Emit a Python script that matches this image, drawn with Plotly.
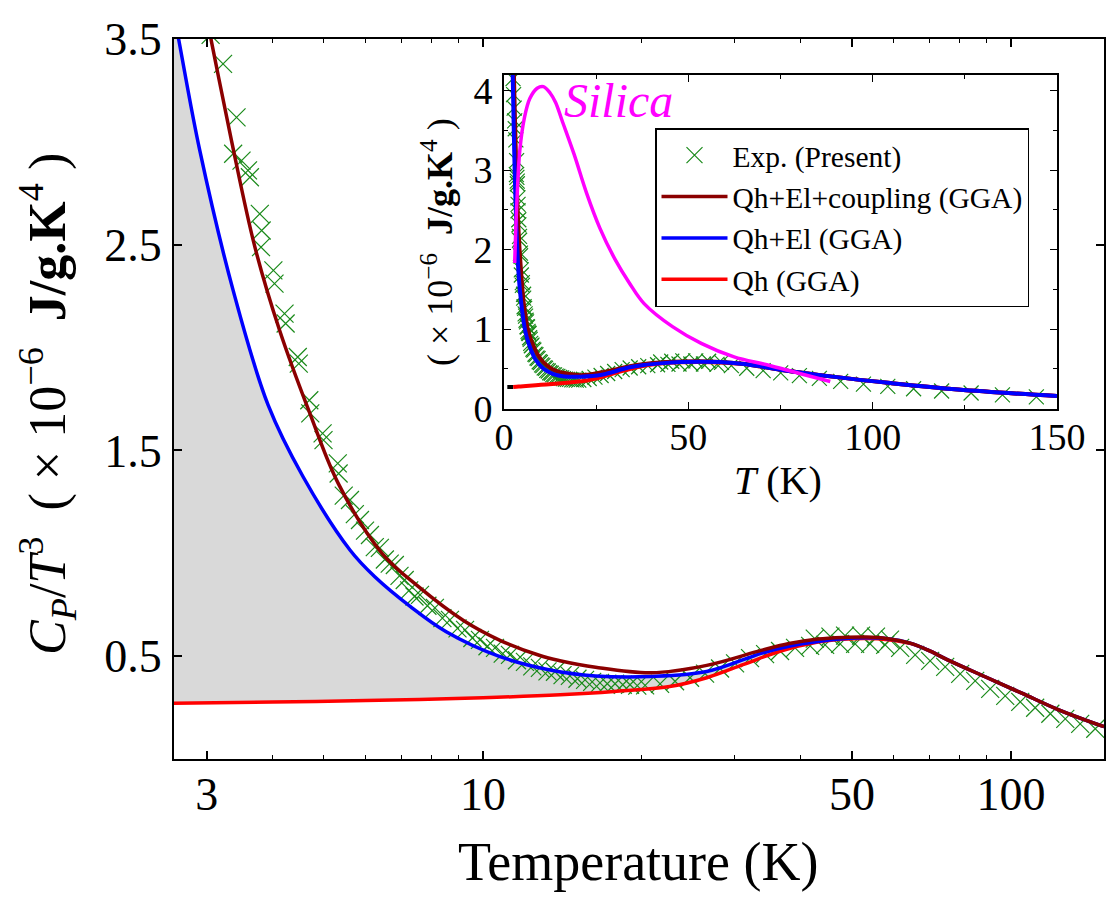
import plotly.graph_objects as go

# ---------------- data ----------------
# Experimental C_P/T^3 (x 1e-6 J/g.K^4)
exp_T = [2.45, 2.6, 2.75, 2.9, 3.05, 3.22, 3.365, 3.415, 3.49, 3.59, 3.62, 3.78, 3.80, 3.81,
         4.01, 4.03, 4.21, 4.23, 4.46, 4.48, 4.69, 4.71, 4.97, 4.99, 5.31, 5.33, 5.60, 5.85,
         6.11, 6.38, 6.81, 7.11, 7.60, 8.11, 8.66, 9.25, 9.87, 10.54, 11.25, 12.01, 12.82,
         13.69, 14.61, 15.61, 16.66, 17.79, 18.99, 20.28, 21.65, 23.11, 24.67, 26.34, 28.12,
         30.02, 32.05, 34.22, 36.53, 39.0, 41.65, 44.46, 47.47, 50.68, 54.1, 57.77, 61.67,
         65.84, 70.29, 75.05, 80.12, 85.54, 91.32, 97.5, 104.1, 111.1, 118.7, 126.7, 135.2,
         144.4, 42.5, 45.5, 48.5, 52.0, 55.5, 59.0,
         5.45, 5.72, 5.98, 6.24, 6.52, 6.66, 6.95, 7.25, 7.42, 7.85, 8.38, 8.95, 9.55, 10.2,
         10.9, 11.6, 12.4, 13.25, 14.15, 15.1, 16.1, 17.2, 18.4, 19.6]
exp_Cp = [4.15, 3.95, 3.78, 3.62, 3.52, 3.379, 2.942, 3.119, 2.909, 2.861, 2.828, 2.650, 2.488,
          2.569, 2.375, 2.311, 2.165, 2.117, 1.954, 1.922, 1.744, 1.680, 1.583, 1.550, 1.437,
          1.388, 1.259, 1.162, 1.089, 1.026, 0.943, 0.870, 0.798, 0.735, 0.676, 0.628, 0.579,
          0.540, 0.506, 0.472, 0.443, 0.424, 0.404, 0.385, 0.370, 0.366, 0.361, 0.358, 0.365,
          0.378, 0.395, 0.415, 0.440, 0.465, 0.490, 0.510, 0.525, 0.540, 0.550, 0.555, 0.560,
          0.560, 0.560, 0.555, 0.540, 0.506, 0.477, 0.448, 0.414, 0.380, 0.341, 0.307, 0.278,
          0.249, 0.220, 0.195, 0.171, 0.147, 0.585, 0.595, 0.600, 0.600, 0.595, 0.580,
          1.28, 1.19, 1.11, 1.03, 0.97, 0.95, 0.89, 0.82, 0.79, 0.745, 0.685, 0.635, 0.588,
          0.548, 0.512, 0.480, 0.450, 0.426, 0.408, 0.390, 0.375, 0.366, 0.361, 0.357]

# Qh+El+coupling (GGA)
coup_T = [2.4, 2.6, 2.8, 3.06, 3.34, 3.70, 4.12, 4.70, 5.32, 6.44, 7.53, 9.20, 10.77, 12.82,
          13.99, 16.34, 20.81, 26.53, 33.78, 38.0, 43.09, 48.0, 53.18, 58.5, 64.4, 69.5, 75.85,
          89.1, 104.8, 123.1, 150.0]
coup_Cp = [4.93, 4.45, 3.98, 3.49, 3.007, 2.488, 2.084, 1.681, 1.340, 1.000, 0.840, 0.672, 0.577,
           0.503, 0.478, 0.446, 0.419, 0.455, 0.529, 0.561, 0.583, 0.591, 0.593, 0.585, 0.563,
           0.530, 0.482, 0.401, 0.320, 0.239, 0.157]

# Qh+El (GGA)
el_T = [2.2, 2.4, 2.655, 2.91, 3.365, 3.92, 4.565, 5.60, 6.24, 7.29, 8.52, 10.77, 13.4, 16.34,
        20.81, 26.53, 33.78, 38.0, 43.09, 48.0, 53.18, 58.5, 64.4, 69.5, 75.85, 89.1, 104.8,
        123.1, 150.0]
el_Cp = [4.73, 4.11, 3.495, 2.957, 2.278, 1.72, 1.372, 1.016, 0.886, 0.741, 0.619, 0.498, 0.433,
         0.404, 0.401, 0.425, 0.515, 0.548, 0.571, 0.584, 0.589, 0.584, 0.563, 0.530, 0.482,
         0.401, 0.320, 0.239, 0.157]

# Qh (GGA)
qh_T = [2.5, 4.0, 6.0, 10.0, 14.0, 17.71, 22.57, 26.53, 31.18, 36.64, 43.09, 48.0, 53.18, 58.5,
        64.4, 69.5, 75.85, 89.1, 104.8, 123.1, 150.0]
qh_Cp = [0.270, 0.277, 0.284, 0.298, 0.312, 0.328, 0.352, 0.395, 0.460, 0.525, 0.568, 0.582,
         0.586, 0.580, 0.562, 0.530, 0.482, 0.401, 0.320, 0.239, 0.157]

# short black segment at the left of the inset
black_T = [0.9, 2.5]
black_Cp = [0.27, 0.27]

# Silica (inset)
silica_T = [2.9, 3.5, 4.3, 5.5, 7.0, 9.0, 10.7, 12.5, 14.0, 15.7, 19.0, 22.4, 26.0, 30.2, 34.0,
            38.0, 45.7, 53.5, 62.4, 71.3, 80.2, 88.5]
silica_Cp = [1.83, 2.6, 3.25, 3.65, 3.9, 4.03, 4.05, 3.97, 3.85, 3.63, 3.2, 2.71, 2.27, 1.87,
             1.58, 1.32, 1.03, 0.82, 0.65, 0.55, 0.44, 0.34]

main_xticks = [3, 10, 50, 100]
main_yticks = [0.5, 1.5, 2.5, 3.5]
inset_xticks = [0, 50, 100, 150]
inset_yticks = [0, 1, 2, 3, 4]

# ---------------- styles ----------------
FONT = "Liberation Serif"
C_COUP = "#8b0000"
C_EL = "#0000ff"
C_QH = "#ff0000"
C_EXP = "#1a8a1a"
C_SIL = "#ff00ff"
W, H = 1120, 907
L, R, T, B = 174, 16, 39, 148
PW, PH = W - L - R, H - T - B
NB = "\u00a0"


def px(x):
    return (x - L) / PW


def py(y):
    return (H - B - y) / PH


fig = go.Figure()

# ---- main plot ----
fig.add_trace(go.Scatter(x=qh_T, y=qh_Cp, mode="lines", line=dict(width=0, color=C_QH),
                         showlegend=False, hoverinfo="skip", xaxis="x", yaxis="y"))
fig.add_trace(go.Scatter(x=el_T, y=el_Cp, mode="lines", line=dict(width=0, color=C_EL),
                         fill="tonexty", fillcolor="#d9d9d9", showlegend=False,
                         hoverinfo="skip", xaxis="x", yaxis="y"))
fig.add_trace(go.Scatter(x=exp_T, y=exp_Cp, mode="markers", name="Exp. (Present)",
                         legendgroup="a", legendrank=1,
                         marker=dict(symbol="x-thin", size=18, line=dict(width=1.2, color=C_EXP)),
                         xaxis="x", yaxis="y"))
fig.add_trace(go.Scatter(x=qh_T, y=qh_Cp, mode="lines", name="Qh (GGA)", legendgroup="d",
                         legendrank=4,
                         line=dict(color=C_QH, width=3.5, shape="spline"), xaxis="x", yaxis="y"))
fig.add_trace(go.Scatter(x=el_T, y=el_Cp, mode="lines", name="Qh+El (GGA)", legendgroup="c",
                         legendrank=3,
                         line=dict(color=C_EL, width=3.5, shape="spline"), xaxis="x", yaxis="y"))
fig.add_trace(go.Scatter(x=coup_T, y=coup_Cp, mode="lines", name="Qh+El+coupling (GGA)",
                         legendgroup="b", legendrank=2,
                         line=dict(color=C_COUP, width=3.5, shape="spline"), xaxis="x", yaxis="y"))

# ---- inset ----
fig.add_trace(go.Scatter(x=exp_T, y=exp_Cp, mode="markers", showlegend=False,
                         marker=dict(symbol="x-thin", size=15, line=dict(width=1.2, color=C_EXP)),
                         xaxis="x2", yaxis="y2"))
fig.add_trace(go.Scatter(x=black_T, y=black_Cp, mode="lines", showlegend=False,
                         line=dict(color="black", width=4), xaxis="x2", yaxis="y2"))
fig.add_trace(go.Scatter(x=qh_T, y=qh_Cp, mode="lines", showlegend=False,
                         line=dict(color=C_QH, width=4, shape="spline"), xaxis="x2", yaxis="y2"))
fig.add_trace(go.Scatter(x=coup_T, y=coup_Cp, mode="lines", showlegend=False,
                         line=dict(color=C_COUP, width=4, shape="spline"), xaxis="x2", yaxis="y2"))
fig.add_trace(go.Scatter(x=el_T, y=el_Cp, mode="lines", showlegend=False,
                         line=dict(color=C_EL, width=4, shape="spline"), xaxis="x2", yaxis="y2"))
fig.add_trace(go.Scatter(x=silica_T, y=silica_Cp, mode="lines", showlegend=False,
                         line=dict(color=C_SIL, width=3.5, shape="spline"), xaxis="x2", yaxis="y2"))

axis_common = dict(showgrid=False, zeroline=False, showline=True, linecolor="black",
                   ticks="inside", mirror="ticks", tickcolor="black", automargin=False)

fig.update_layout(
    width=W, height=H, autosize=False,
    margin=dict(l=L, r=R, t=T, b=B, pad=0, autoexpand=False),
    paper_bgcolor="white", plot_bgcolor="white",
    font=dict(family=FONT, color="black"),
    xaxis=dict(**axis_common, type="log", range=[0.41497, 2.17609], domain=[0, 1],
               linewidth=2, ticklen=8, tickwidth=1.5,
               tickvals=main_xticks, ticktext=[str(v) for v in main_xticks],
               tickfont=dict(size=46, family=FONT), ticklabelstandoff=-6,
               minor=dict(ticks="inside", ticklen=4, tickwidth=1.2, tickcolor="black",
                          tickvals=[4, 5, 6, 7, 8, 9, 20, 30, 40, 60, 70, 80, 90])),
    yaxis=dict(**axis_common, range=[0, 3.5], domain=[0, 1], linewidth=2, ticklen=8,
               tickwidth=1.5, tickvals=main_yticks, ticktext=["0.5", "1.5", "2.5", "3.5"],
               tickfont=dict(size=46, family=FONT), ticklabelstandoff=1),
    xaxis2=dict(**axis_common, anchor="y2", domain=[px(504), px(1057)], range=[0, 150],
                linewidth=2, ticklen=7, tickwidth=1.3, tickvals=inset_xticks,
                ticktext=[str(v) for v in inset_xticks],
                tickfont=dict(size=38, family=FONT), ticklabelstandoff=-6,
                minor=dict(ticks="inside", ticklen=4, tickwidth=1.0, tickcolor="black",
                           tickvals=[25, 75, 125])),
    yaxis2=dict(**axis_common, anchor="x2", domain=[py(408.5), py(74.7)], range=[0, 4.2],
                linewidth=2, ticklen=7, tickwidth=1.3, tickvals=inset_yticks,
                ticktext=[str(v) for v in inset_yticks],
                tickfont=dict(size=38, family=FONT), ticklabelstandoff=2,
                minor=dict(ticks="inside", ticklen=4, tickwidth=1.0, tickcolor="black",
                           tickvals=[0.5, 1.5, 2.5, 3.5])),
    legend=dict(x=px(655), y=py(128), xanchor="left", yanchor="top",
                bgcolor="white", bordercolor="black", borderwidth=1.5,
                font=dict(size=29.5, family=FONT, color="black"),
                traceorder="grouped", tracegroupgap=0, itemwidth=66),
    showlegend=True,
)

ytitle = ("<i>C</i><sub><i>P</i></sub>/<i>T</i><sup>3</sup>" + NB * 2 + "(" + NB + "×" + NB
          + "10<sup>−6</sup>" + NB * 2 + "<b>J/g.K</b><sup>4</sup>" + NB + ")")
ytitle2 = ("(" + NB + "×" + NB + "10<sup>−6</sup>" + NB * 2 + "<b>J/g.K</b><sup>4</sup>"
           + NB + ")")

annotations = [
    dict(text="Temperature (K)", x=px(638), y=py(862), xref="paper", yref="paper",
         xanchor="center", yanchor="middle", showarrow=False, font=dict(size=54, family=FONT)),
    dict(text=ytitle, x=px(47), y=py(404), xref="paper", yref="paper", textangle=-90,
         xanchor="center", yanchor="middle", showarrow=False, font=dict(size=52, family=FONT)),
    dict(text=ytitle2, x=px(437), y=py(242), xref="paper", yref="paper", textangle=-90,
         xanchor="center", yanchor="middle", showarrow=False, font=dict(size=36, family=FONT)),
    dict(text="<i>T</i>" + NB + "(K)", x=px(778), y=py(480), xref="paper", yref="paper",
         xanchor="center", yanchor="middle", showarrow=False, font=dict(size=40, family=FONT)),
    dict(text="<i>Silica</i>", x=px(618), y=py(100), xref="paper", yref="paper",
         xanchor="center", yanchor="middle", showarrow=False,
         font=dict(size=48, family=FONT, color=C_SIL)),
]
fig.update_layout(annotations=annotations)

fig.write_html("out.html")
